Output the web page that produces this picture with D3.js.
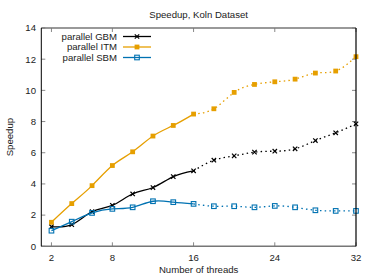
<!DOCTYPE html>
<html>
<head>
<meta charset="utf-8">
<script src="https://cdn.jsdelivr.net/npm/d3@7"></script>
<style>
	body { margin: 0; background: #fff; }
	text { font-family: "Liberation Sans", Arial, sans-serif; fill: #222; }
</style>
</head>
<body>
<div id="chart"></div>
<script>
// speedup chart, koln dataset

var threads = [2, 4, 6, 8, 10, 12, 14, 16, 18, 20, 22, 24, 26, 28, 30, 32];
var gbm = [1.26, 1.39, 2.22, 2.63, 3.36, 3.77, 4.47, 4.84, 5.52, 5.80, 6.04, 6.10, 6.25, 6.78, 7.28, 7.85];
var itm = [1.54, 2.74, 3.89, 5.18, 6.06, 7.07, 7.75, 8.48, 8.82, 9.87, 10.38, 10.55, 10.72, 11.11, 11.24, 12.16];
var sbm = [1.00, 1.58, 2.14, 2.40, 2.50, 2.89, 2.83, 2.72, 2.57, 2.57, 2.50, 2.59, 2.50, 2.31, 2.27, 2.27];
var seriesNames = ["parallel GBM", "parallel ITM", "parallel SBM"];
var xTicks = [2, 8, 16, 24, 32];
var yTicks = [0, 2, 4, 6, 8, 10, 12, 14];
var splitAt = 16; // solid up to here, dotted after

var width = 374, height = 278;
// note: "top" is taken by window.top, so prefix these
var pLeft = 41.3, pRight = 356, pTop = 28, pBottom = 246.3;

var svg = d3.select("#chart").append("svg")
	.attr("width", width)
	.attr("height", height);

var x = d3.scaleLinear().domain([1, 32]).range([pLeft, pRight]);
var y = d3.scaleLinear().domain([0, 14]).range([pBottom, pTop]);

var styles = [
	{"color": "#000000", "marker": "cross"},
	{"color": "#e69f00", "marker": "filled"},
	{"color": "#0072b2", "marker": "open"}
];

// ticks, inward on all four sides
var tickLen = 4;
var ticks = svg.append("g").attr("class", "ticks")
	.attr("stroke", "#888")
	.attr("stroke-width", 1);
xTicks.forEach(function(t){
	ticks.append("line").attr("x1", x(t)).attr("x2", x(t)).attr("y1", pBottom).attr("y2", pBottom - tickLen);
	ticks.append("line").attr("x1", x(t)).attr("x2", x(t)).attr("y1", pTop).attr("y2", pTop + tickLen);
});
yTicks.forEach(function(t){
	ticks.append("line").attr("x1", pLeft).attr("x2", pLeft + tickLen).attr("y1", y(t)).attr("y2", y(t));
	ticks.append("line").attr("x1", pRight).attr("x2", pRight - tickLen).attr("y1", y(t)).attr("y2", y(t));
});

// tick labels
svg.append("g").selectAll("text")
	.data(xTicks)
	.enter().append("text")
	.attr("x", function(d){ return x(d); })
	.attr("y", 260.5)
	.attr("text-anchor", "middle")
	.attr("font-size", "9.6px")
	.text(function(d){ return d; });

svg.append("g").selectAll("text")
	.data(yTicks)
	.enter().append("text")
	.attr("x", 36)
	.attr("y", function(d){ return y(d); })
	.attr("dy", "0.35em")
	.attr("text-anchor", "end")
	.attr("font-size", "9.6px")
	.text(function(d){ return d; });

// the data lines
var line = d3.line()
	.x(function(d){ return x(d[0]); })
	.y(function(d){ return y(d[1]); })
	.curve(d3.curveNatural);

var plot = svg.append("g").attr("class", "plot");

function drawMarker(g, kind, cx, cy, color){
	if (kind == "cross") {
		var s = 2.2;
		g.append("path")
			.attr("d", "M" + (cx - s) + "," + (cy - s) + "L" + (cx + s) + "," + (cy + s) +
				"M" + (cx - s) + "," + (cy + s) + "L" + (cx + s) + "," + (cy - s))
			.attr("stroke", color)
			.attr("stroke-width", 1.2)
			.attr("fill", "none");
	} else if (kind == "filled") {
		g.append("rect")
			.attr("x", cx - 2.4).attr("y", cy - 2.4)
			.attr("width", 4.8).attr("height", 4.8)
			.attr("fill", color);
	} else {
		g.append("rect")
			.attr("x", cx - 2.3).attr("y", cy - 2.3)
			.attr("width", 4.6).attr("height", 4.6)
			.attr("fill", "none")
			.attr("stroke", color)
			.attr("stroke-width", 1.1);
	}
}

[gbm, itm, sbm].forEach(function(vals, i){
	var pts = threads.map(function(t, j){ return [t, vals[j]]; });
	var solid = pts.filter(function(p){ return p[0] <= splitAt; });
	var dotted = pts.filter(function(p){ return p[0] >= splitAt; });
	var st = styles[i];

	plot.append("path")
		.attr("d", line(solid))
		.attr("fill", "none")
		.attr("stroke", st.color)
		.attr("stroke-width", 1.3);
	plot.append("path")
		.attr("d", line(dotted))
		.attr("fill", "none")
		.attr("stroke", st.color)
		.attr("stroke-width", 1.3)
		.attr("stroke-dasharray", "1.5,3.2");

	var marks = plot.append("g");
	pts.forEach(function(p){
		drawMarker(marks, st.marker, x(p[0]), y(p[1]), st.color);
	});
});

// border, horizontal edges look grey and heavier
svg.append("line").attr("x1", pLeft).attr("x2", pRight).attr("y1", pTop).attr("y2", pTop)
	.attr("stroke", "#777").attr("stroke-width", 1.6);
svg.append("line").attr("x1", pLeft).attr("x2", pRight).attr("y1", pBottom).attr("y2", pBottom)
	.attr("stroke", "#777").attr("stroke-width", 1.6);
svg.append("line").attr("x1", pLeft).attr("x2", pLeft).attr("y1", pTop).attr("y2", pBottom)
	.attr("stroke", "#000").attr("stroke-width", 1);
svg.append("line").attr("x1", pRight).attr("x2", pRight).attr("y1", pTop).attr("y2", pBottom)
	.attr("stroke", "#000").attr("stroke-width", 1.2);

// legend
var legendY = [36.5, 47, 57.5];
var legend = svg.append("g").attr("class", "legend");
seriesNames.forEach(function(name, i){
	var st = styles[i];
	legend.append("text")
		.attr("x", 117)
		.attr("y", legendY[i])
		.attr("dy", "0.35em")
		.attr("text-anchor", "end")
		.attr("font-size", "9.6px")
		.text(name);
	legend.append("line")
		.attr("x1", 123).attr("x2", 151)
		.attr("y1", legendY[i]).attr("y2", legendY[i])
		.attr("stroke", st.color)
		.attr("stroke-width", 1.3);
	drawMarker(legend, st.marker, 137, legendY[i], st.color);
});

// titles
svg.append("text")
	.attr("x", (pLeft + pRight) / 2)
	.attr("y", 17.5)
	.attr("text-anchor", "middle")
	.attr("font-size", "9.6px")
	.text("Speedup, Koln Dataset");

svg.append("text")
	.attr("x", (pLeft + pRight) / 2)
	.attr("y", 273)
	.attr("text-anchor", "middle")
	.attr("font-size", "9.6px")
	.text("Number of threads");

svg.append("text")
	.attr("transform", "translate(13," + ((pTop + pBottom) / 2) + ") rotate(-90)")
	.attr("text-anchor", "middle")
	.attr("font-size", "9.6px")
	.text("Speedup");
</script>
</body>
</html>
